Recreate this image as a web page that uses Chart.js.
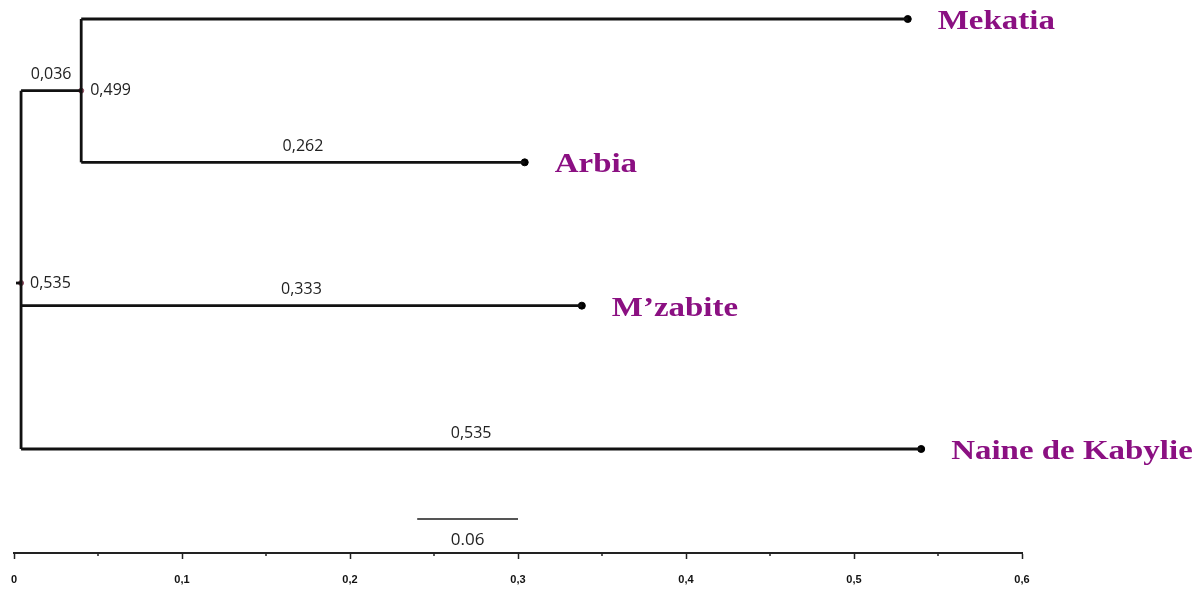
<!DOCTYPE html>
<html>
<head>
<meta charset="utf-8">
<script src="https://cdn.jsdelivr.net/npm/chart.js@4.4.1/dist/chart.umd.min.js"></script>
<style>
  html, body { margin: 0; padding: 0; background: #fff; }
  #wrap { width: 1202px; height: 589px; position: relative; }
</style>
</head>
<body>
<div id="wrap"><canvas id="tree"></canvas></div>
<script>
// leaves of the tree (x = distance from the root, y = row)
const leafNames = ['Mekatia', 'Arbia', 'M\u2019zabite', 'Naine de Kabylie'];
const leafX = [0.532, 0.304, 0.338, 0.540];
const leafY = [4, 3, 2, 1];

// internal nodes
const nodeX = [0.040, 0.0042];
const nodeY = [3.5, 2.158];
const nodeLabels = ['0,499', '0,535'];

// horizontal branches
const hBranchX0 = [0.0042, 0.040, 0.040, 0.0042, 0.0042, 0.0012];
const hBranchX1 = [0.040, 0.532, 0.304, 0.338, 0.540, 0.0042];
const hBranchY = [3.5, 4, 3, 2, 1, 2.158];
const hBranchLabels = ['0,036', '', '0,262', '0,333', '0,535', ''];

// vertical branches
const vBranchX = [0.0042, 0.040];
const vBranchY0 = [1, 3];
const vBranchY1 = [3.5, 4];

// scale bar
const scaleBarX = [0.24, 0.30];
const scaleBarY = 0.512;
const scaleBarLabel = '0.06';

// x axis
const majorTicks = [0, 0.1, 0.2, 0.3, 0.4, 0.5, 0.6];
const minorTicks = [0.05, 0.15, 0.25, 0.35, 0.45, 0.55];

const lineColor = '#111';
const datasets = [];

hBranchY.forEach((y, i) => {
  datasets.push({
    data: [{x: hBranchX0[i], y: y}, {x: hBranchX1[i], y: y}],
    borderColor: lineColor, borderWidth: 2.8, pointRadius: 0, showLine: true
  });
});
vBranchX.forEach((x, i) => {
  datasets.push({
    data: [{x: x, y: vBranchY0[i]}, {x: x, y: vBranchY1[i]}],
    borderColor: lineColor, borderWidth: 2.8, pointRadius: 0, showLine: true
  });
});
datasets.push({
  data: scaleBarX.map(x => ({x: x, y: scaleBarY})),
  borderColor: '#555', borderWidth: 2, pointRadius: 0, showLine: true
});
datasets.push({
  data: leafX.map((x, i) => ({x: x, y: leafY[i]})),
  backgroundColor: '#000', borderColor: '#000', pointRadius: 3.5, showLine: false
});
datasets.push({
  data: nodeX.map((x, i) => ({x: x, y: nodeY[i]})),
  backgroundColor: '#8a4a5c', borderColor: '#8a4a5c', pointRadius: 2.5, showLine: false
});

const treeText = {
  id: 'treeText',
  afterDatasetsDraw(chart) {
    const ctx = chart.ctx;
    const xs = chart.scales.x, ys = chart.scales.y;
    ctx.save();

    // leaf names
    ctx.fillStyle = '#8b1082';
    ctx.font = 'bold 27px "Liberation Serif", "Times New Roman", serif';
    ctx.textBaseline = 'alphabetic';
    ctx.textAlign = 'left';
    leafNames.forEach((name, i) => {
      const px = xs.getPixelForValue(leafX[i]) + 30;
      const py = ys.getPixelForValue(leafY[i]) + 10;
      ctx.save();
      ctx.translate(px, py);
      ctx.scale(1.22, 1);
      ctx.fillText(name, 0, 0);
      ctx.restore();
    });

    // branch labels
    ctx.fillStyle = '#222';
    ctx.font = '16px "Open Sans", "DejaVu Sans", sans-serif';
    ctx.textAlign = 'center';
    ctx.textBaseline = 'middle';
    hBranchLabels.forEach((lab, i) => {
      if (!lab) return;
      const px = (xs.getPixelForValue(hBranchX0[i]) + xs.getPixelForValue(hBranchX1[i])) / 2;
      const py = ys.getPixelForValue(hBranchY[i]) - 16;
      ctx.fillText(lab, px, py);
    });

    // node labels
    ctx.textAlign = 'left';
    nodeLabels.forEach((lab, i) => {
      ctx.fillText(lab, xs.getPixelForValue(nodeX[i]) + 9, ys.getPixelForValue(nodeY[i]));
    });

    // scale bar label
    ctx.font = '17px "Open Sans", "DejaVu Sans", sans-serif';
    ctx.textAlign = 'center';
    ctx.fillText(scaleBarLabel,
      (xs.getPixelForValue(scaleBarX[0]) + xs.getPixelForValue(scaleBarX[1])) / 2,
      ys.getPixelForValue(scaleBarY) + 21);

    // minor ticks on the x axis
    ctx.strokeStyle = '#222';
    ctx.lineWidth = 1.5;
    minorTicks.forEach(v => {
      const px = xs.getPixelForValue(v);
      ctx.beginPath();
      ctx.moveTo(px, xs.top);
      ctx.lineTo(px, xs.top + 3);
      ctx.stroke();
    });
    ctx.restore();
  }
};

new Chart(document.getElementById('tree'), {
  type: 'scatter',
  data: { datasets: datasets },
  options: {
    responsive: true,
    maintainAspectRatio: false,
    animation: false,
    layout: { padding: { left: 14, right: 180, top: 0, bottom: 0 } },
    plugins: { legend: { display: false }, tooltip: { enabled: false } },
    scales: {
      x: {
        type: 'linear',
        min: 0,
        max: 0.6,
        afterFit(scale) {
          scale.height = 36;
          scale.paddingLeft = 0;
          scale.paddingRight = 0;
        },
        afterBuildTicks(scale) { scale.ticks = majorTicks.map(v => ({value: v})); },
        border: { display: true, color: '#222', width: 2 },
        grid: { drawOnChartArea: false, drawTicks: true, tickLength: 6, tickColor: '#222', tickWidth: 1.5 },
        ticks: {
          padding: 14,
          maxRotation: 0,
          autoSkip: false,
          color: '#111',
          font: { family: '"Liberation Sans Narrow", "Arial Narrow", sans-serif', size: 11, weight: 'bold' },
          callback: v => v === 0 ? '0' : v.toFixed(1).replace('.', ',')
        }
      },
      y: {
        type: 'linear',
        display: false,
        min: 0.2744,
        max: 4.0977
      }
    }
  },
  plugins: [treeText]
});
</script>
</body>
</html>
